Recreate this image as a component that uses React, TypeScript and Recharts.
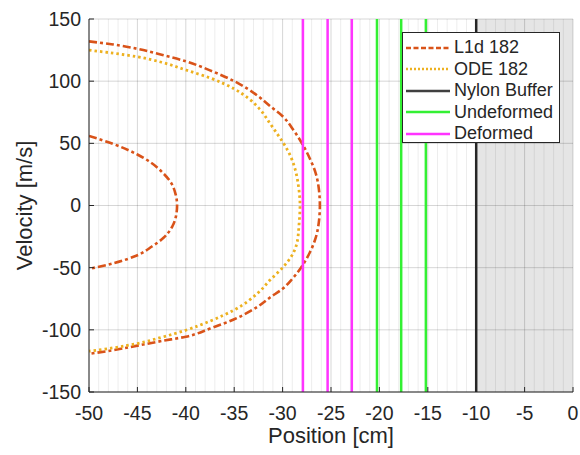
import {
	ComposedChart,
	Line,
	XAxis,
	YAxis,
	CartesianGrid,
	ReferenceLine,
	ReferenceArea,
} from "recharts";

const FONT = "'Liberation Sans', Arial, Helvetica, sans-serif";
const INK = "#262626";

// axis ticks
const xTicks = [-50, -45, -40, -35, -30, -25, -20, -15, -10, -5, 0];
const yTicks = [-150, -100, -50, 0, 50, 100, 150];

// minor vertical grid, every 1 cm (skip the major ones)
const minorX: number[] = [];
for (let v = -49; v < 0; v++) {
	if (v % 5 !== 0) minorX.push(v);
}

// L1d 182 : outer branch (top-left round to bottom-left) and inner branch
const l1dOuter: [number, number][] = [
	[-50, 132], [-47.5, 129.5], [-45, 126], [-42.5, 121.3], [-40, 116],
	[-37.5, 108.7], [-35, 100], [-32.5, 87.8], [-31.3, 80], [-30, 71.8],
	[-28.9, 61], [-28, 50], [-27.2, 38], [-26.6, 26.5], [-26.25, 13],
	[-26.15, 0], [-26.25, -13], [-26.6, -26.5], [-27.2, -38], [-28.1, -50],
	[-29, -59], [-30, -67], [-31.3, -74], [-32.5, -81], [-35, -91.5],
	[-37.5, -99], [-40, -105.5], [-42.5, -109], [-45, -112.7], [-47.5, -116.4],
	[-50, -119.3],
];
const l1dInner: [number, number][] = [
	[-50, 56], [-47.5, 49.5], [-45, 41], [-43.6, 34.5], [-42.4, 26.5],
	[-41.5, 18], [-41.05, 9], [-40.9, 0], [-41, -8], [-41.4, -17],
	[-42.3, -26], [-43.5, -33], [-45, -40], [-47.5, -46.5], [-50, -51],
];

// ODE 182
const odeOuter: [number, number][] = [
	[-50, 125], [-47.5, 122.5], [-45, 119.6], [-42.5, 115.2], [-40, 109],
	[-37.5, 102.6], [-35, 93.8], [-33.5, 86], [-32.3, 77], [-31.3, 66],
	[-30.5, 57], [-29.9, 50], [-29.2, 40], [-28.7, 29], [-28.35, 15],
	[-28.2, 0], [-28.3, -15], [-28.5, -29.5], [-29.1, -41], [-30, -50],
	[-31.3, -60], [-32.5, -70], [-35, -84], [-37.5, -93], [-40, -100.3],
	[-42.5, -106], [-45, -111], [-47.5, -114.5], [-50, -117.2],
];

// vertical markers
const nylonX = [-10];
const undeformedX = [-20.25, -17.75, -15.2];
const deformedX = [-27.9, -25.35, -22.85];
const bufferRegion = [-10, 0];

const toPoints = (pts: [number, number][]) => pts.map(([x, y]) => ({ x, y }));

const L1D_COLOR = "#D95319";
const ODE_COLOR = "#EDB120";
const NYLON_COLOR = "#262626";
const UNDEF_COLOR = "#33f033";
const DEF_COLOR = "#ff33ff";
const L1D_DASH = "8 3 3 3";
const ODE_DASH = "2.5 3";

const legendItems = [
	{ name: "L1d 182", color: L1D_COLOR, dash: "5 2.5" },
	{ name: "ODE 182", color: ODE_COLOR, dash: "2 2" },
	{ name: "Nylon Buffer", color: "#404040", dash: undefined },
	{ name: "Undeformed", color: UNDEF_COLOR, dash: undefined },
	{ name: "Deformed", color: DEF_COLOR, dash: undefined },
];

const tickStyle = { fontSize: 19.5, fill: INK, fontFamily: FONT };

export default function App() {
	return (
		<div
			style={{
				position: "absolute",
				left: 0,
				top: 0,
				width: 580,
				height: 455,
				background: "#fff",
				fontFamily: FONT,
			}}
		>
			<ComposedChart
				width={580}
				height={455}
				margin={{ top: 19, right: 7, bottom: 0, left: 0 }}
			>
				<CartesianGrid stroke="#000" strokeOpacity={0.16} />
				{minorX.map((v) => (
					<ReferenceLine
						key={"m" + v}
						x={v}
						stroke="#000"
						strokeOpacity={0.075}
					/>
				))}
				<ReferenceArea
					x1={bufferRegion[0]}
					x2={bufferRegion[1]}
					fill="#000"
					fillOpacity={0.1}
					stroke="none"
				/>
				<XAxis
					type="number"
					dataKey="x"
					domain={[-50, 0]}
					ticks={xTicks}
					height={63}
					tickSize={-5}
					tickMargin={19}
					tick={tickStyle}
					stroke={INK}
					allowDataOverflow
					label={{
						value: "Position [cm]",
						position: "insideBottom",
						offset: 12.5,
						fontSize: 22,
						fill: INK,
						fontFamily: FONT,
					}}
				/>
				<XAxis
					xAxisId="top"
					orientation="top"
					type="number"
					dataKey="x"
					domain={[-50, 0]}
					ticks={xTicks}
					height={0}
					tickSize={-5}
					tick={false}
					stroke={INK}
				/>
				<YAxis
					type="number"
					domain={[-150, 150]}
					ticks={yTicks}
					width={89}
					tickSize={-5}
					tickMargin={13}
					tick={tickStyle}
					stroke={INK}
					allowDataOverflow
					label={{
						value: "Velocity [m/s]",
						position: "center",
						angle: -90,
						dx: -20,
						fontSize: 22,
						fill: INK,
						fontFamily: FONT,
					}}
				/>
				<YAxis
					yAxisId="right"
					orientation="right"
					type="number"
					domain={[-150, 150]}
					ticks={yTicks}
					width={0}
					tickSize={-5}
					tick={false}
					stroke={INK}
				/>
				<Line
					data={toPoints(l1dOuter)}
					dataKey="y"
					type="monotoneY"
					stroke={L1D_COLOR}
					strokeWidth={2.6}
					strokeDasharray={L1D_DASH}
					dot={false}
					activeDot={false}
					isAnimationActive={false}
				/>
				<Line
					data={toPoints(l1dInner)}
					dataKey="y"
					type="monotoneY"
					stroke={L1D_COLOR}
					strokeWidth={2.6}
					strokeDasharray={L1D_DASH}
					dot={false}
					activeDot={false}
					isAnimationActive={false}
				/>
				<Line
					data={toPoints(odeOuter)}
					dataKey="y"
					type="monotoneY"
					stroke={ODE_COLOR}
					strokeWidth={2.8}
					strokeDasharray={ODE_DASH}
					dot={false}
					activeDot={false}
					isAnimationActive={false}
				/>
				{nylonX.map((v) => (
					<ReferenceLine key={"n" + v} x={v} stroke={NYLON_COLOR} strokeWidth={2.5} />
				))}
				{undeformedX.map((v) => (
					<ReferenceLine key={"u" + v} x={v} stroke={UNDEF_COLOR} strokeWidth={2.5} />
				))}
				{deformedX.map((v) => (
					<ReferenceLine key={"d" + v} x={v} stroke={DEF_COLOR} strokeWidth={2.5} />
				))}
			</ComposedChart>

			{/* legend box */}
			<div
				style={{
					position: "absolute",
					left: 402,
					top: 32,
					width: 158,
					height: 111,
					border: `1px solid ${INK}`,
					background: "#fff",
					paddingTop: 4,
					boxSizing: "border-box",
				}}
			>
				{legendItems.map((item) => (
					<div
						key={item.name}
						style={{
							display: "flex",
							alignItems: "center",
							height: 21.5,
							fontSize: 18,
							color: INK,
							whiteSpace: "nowrap",
						}}
					>
						<svg width={50} height={10} style={{ flex: "none" }}>
							<line
								x1={3}
								x2={47}
								y1={5}
								y2={5}
								stroke={item.color}
								strokeWidth={2.5}
								strokeDasharray={item.dash}
							/>
						</svg>
						<span style={{ marginLeft: 1 }}>{item.name}</span>
					</div>
				))}
			</div>
		</div>
	);
}
